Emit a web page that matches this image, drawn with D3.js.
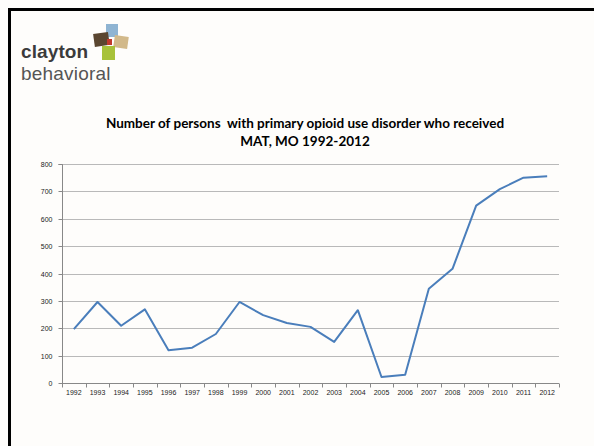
<!DOCTYPE html>
<html>
<head>
<meta charset="utf-8">
<script src="https://cdn.jsdelivr.net/npm/d3@7"></script>
<style>
  body { margin: 0; background: #fff; }
  svg { display: block; }
</style>
</head>
<body>
<div id="chart"></div>
<script>
const years = ["1992", "1993", "1994", "1995", "1996", "1997", "1998", "1999", "2000", "2001", "2002",
  "2003", "2004", "2005", "2006", "2007", "2008", "2009", "2010", "2011", "2012"];
const persons = [197, 296, 209, 269, 120, 129, 179, 296, 248, 219, 205,
  150, 266, 22, 30, 344, 417, 648, 708, 750, 755];
const yTicks = [0, 100, 200, 300, 400, 500, 600, 700, 800];
const titleLines = ["Number of persons  with primary opioid use disorder who received", "MAT, MO 1992-2012"];

const W = 594, H = 446;
const margin = { top: 164, right: 35, bottom: 63, left: 62 };
const width = W - margin.left - margin.right;
const height = H - margin.top - margin.bottom;

const svg = d3.select("#chart").append("svg")
    .attr("width", W)
    .attr("height", H);

// slide background + frame
svg.append("rect").attr("width", W).attr("height", H).attr("fill", "#fefdfb");
svg.append("line").attr("x1", 8).attr("x2", W).attr("y1", 9.5).attr("y2", 9.5)
    .attr("stroke", "#000").attr("stroke-width", 3);
svg.append("line").attr("x1", 9.5).attr("x2", 9.5).attr("y1", 8).attr("y2", H)
    .attr("stroke", "#000").attr("stroke-width", 3);

// logo
const logo = svg.append("g");
logo.append("rect").attr("x", 106).attr("y", 24).attr("width", 12).attr("height", 13).attr("fill", "#8fb4d2");
logo.append("rect").attr("x", 94).attr("y", 33).attr("width", 15).attr("height", 13).attr("fill", "#5a4630")
    .attr("transform", "rotate(-8,101,40)");
logo.append("rect").attr("x", 114).attr("y", 36).attr("width", 14).attr("height", 12).attr("fill", "#d2b98a")
    .attr("transform", "rotate(8,121,42)");
logo.append("rect").attr("x", 102).attr("y", 46).attr("width", 13).attr("height", 14).attr("fill", "#a8c23a");
logo.append("rect").attr("x", 107).attr("y", 39).attr("width", 5).attr("height", 6).attr("fill", "#c0392b");
logo.append("text").attr("x", 21).attr("y", 58)
    .attr("font-family", "Liberation Sans, Arial, sans-serif").attr("font-size", 19).attr("font-weight", "bold")
    .attr("fill", "#3b3b3b").attr("letter-spacing", 0.1).text("clayton");
logo.append("text").attr("x", 21).attr("y", 80)
    .attr("font-family", "Liberation Sans, Arial, sans-serif").attr("font-size", 19)
    .attr("fill", "#555").attr("letter-spacing", 0.2).text("behavioral");

// title
svg.append("g").selectAll("text")
    .data(titleLines)
    .join("text")
    .attr("x", 305)
    .attr("y", (d, i) => 128 + i * 18)
    .attr("text-anchor", "middle")
    .attr("font-family", "Lato, Open Sans, sans-serif")
    .attr("font-weight", "bold")
    .attr("font-size", 13.5)
    .attr("fill", "#000")
    .style("white-space", "pre")
    .text(d => d);

const g = svg.append("g")
    .attr("transform", `translate(${margin.left},${margin.top})`);

const x = d3.scaleBand().domain(years).range([0, width]);
const y = d3.scaleLinear().domain([0, 800]).range([height, 0]);

// gridlines
g.append("g").selectAll("line")
    .data(yTicks.filter(d => d > 0))
    .join("line")
    .attr("x1", 0).attr("x2", width)
    .attr("y1", d => Math.round(y(d)) + 0.5).attr("y2", d => Math.round(y(d)) + 0.5)
    .attr("stroke", "#b9b9b9");

// y axis
const yAxis = g.append("g")
    .attr("transform", "translate(0.5,0)")
    .call(d3.axisLeft(y).tickValues(yTicks).tickSize(4).tickPadding(6));
yAxis.selectAll("text").attr("font-family", "Liberation Sans, Arial, sans-serif").attr("font-size", 7).attr("fill", "#222");
yAxis.selectAll("line, path").attr("stroke", "#888");
yAxis.select(".domain").attr("d", `M-4,0.5H0V${height}`);
yAxis.selectAll(".tick").attr("transform", d => `translate(0,${Math.round(y(d)) + 0.5})`);

// x axis
const xAxis = g.append("g")
    .attr("transform", `translate(0,${Math.round(height) + 0.5})`)
    .call(d3.axisBottom(x).tickSize(0).tickPadding(7));
xAxis.selectAll("text").attr("font-family", "Liberation Sans, Arial, sans-serif").attr("font-size", 7).attr("fill", "#222");
xAxis.select(".domain").attr("stroke", "#888").attr("d", `M0,0H${width}`);
xAxis.append("g").selectAll("line")
    .data(years.concat(["end"]))
    .join("line")
    .attr("x1", (d, i) => Math.round(i * x.bandwidth()) + 0.5)
    .attr("x2", (d, i) => Math.round(i * x.bandwidth()) + 0.5)
    .attr("y1", 0).attr("y2", 4)
    .attr("stroke", "#888");

// series line
const line = d3.line()
    .x((d, i) => x(years[i]) + x.bandwidth() / 2)
    .y(d => y(d));
g.append("path")
    .datum(persons)
    .attr("d", line)
    .attr("fill", "none")
    .attr("stroke", "#4a7ebb")
    .attr("stroke-width", 2)
    .attr("stroke-linejoin", "round");
</script>
</body>
</html>
